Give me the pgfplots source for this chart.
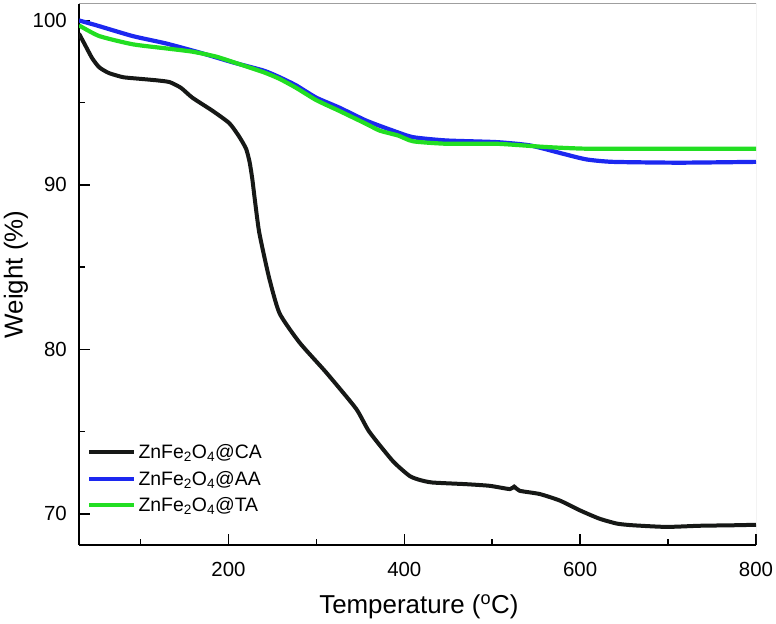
\documentclass[border=0pt]{standalone}
\usepackage{pgfplots}
\pgfplotsset{compat=1.18}
\usepackage{fontspec}
\setmainfont{Liberation Sans}

\definecolor{tgaBlack}{RGB}{22,24,22}
\definecolor{tgaBlue}{RGB}{28,40,240}
\definecolor{tgaGreen}{RGB}{34,222,34}

% TGA curves: temperature (C) vs remaining weight (%)
\pgfplotstableread{
T    W
30   99.2
36   98.6
45   97.7
53   97.15
64   96.8
80   96.55
95   96.47
118  96.36
133  96.25
146  95.9
159  95.3
182  94.5
201  93.75
212  92.95
220  92.2
224  91.4
227  90.4
230  89.1
235  87.1
246  84.4
258  82.2
281  80.4
311  78.6
345  76.4
360  75.0
387  73.2
406  72.3
418  72.05
432  71.9
470  71.8
497  71.7
520  71.5
525  71.65
531  71.4
554  71.2
577  70.8
600  70.2
622  69.7
642  69.4
660  69.3
698  69.2
736  69.27
774  69.3
800  69.33
}\dataCA

\pgfplotstableread{
T    W
30   100.0
50   99.7
91   99.05
129  98.6
167  98.05
205  97.45
240  96.95
258  96.55
277  96.05
300  95.3
326  94.7
357  93.9
387  93.3
410  92.9
448  92.7
505  92.6
543  92.4
580  91.9
607  91.55
637  91.4
713  91.35
800  91.4
}\dataAA

\pgfplotstableread{
T    W
30   99.7
53   99.05
91   98.55
129  98.3
159  98.1
186  97.8
212  97.35
240  96.85
258  96.45
277  95.9
300  95.15
326  94.5
357  93.7
372  93.3
393  93.0
410  92.65
448  92.5
505  92.5
562  92.3
607  92.2
676  92.2
800  92.2
}\dataTA

\begin{document}
\begin{tikzpicture}
\begin{axis}[
  scale only axis,
  width=677bp, height=541bp,
  xmin=30, xmax=800, ymin=68.1, ymax=101,
  axis x line*=bottom, axis y line*=left,
  axis line style={-, line width=1.6bp, black},
  xtick={200,400,600,800}, ytick={70,80,90,100},
  minor xtick={100,300,500,700}, minor ytick={75,85,95},
  tick align=inside,
  major tick length=11bp, minor tick length=6bp,
  every tick/.style={line width=1.6bp, black},
  /pgf/number format/assume math mode=true,
  ticklabel style={font=\fontsize{20.5}{24}\selectfont},
  xticklabel style={anchor=north, inner sep=0pt, yshift=-17bp},
  yticklabel style={anchor=east, inner sep=0pt, xshift=-12bp},
  xlabel={Temperature (\textsuperscript{o}C)},
  ylabel={Weight (\%)},
  label style={font=\fontsize{26}{30}\selectfont},
  xlabel style={at={(axis description cs:0.502,-0.115)}, anchor=center},
  ylabel style={at={(axis description cs:-0.093,0.5)}, anchor=center},
  legend style={
    at={(axis description cs:0.012,0.19)}, anchor=north west,
    draw=none, fill=none, inner sep=0pt, row sep=7bp,
    font=\fontsize{19.5}{23}\selectfont,
    nodes={inner sep=2bp},
  },
  legend cell align=left,
  legend image code/.code={\draw[#1] (0bp,0bp) -- (45bp,0bp);},
  every axis plot/.append style={smooth, tension=0.35},
]
\addplot[tgaBlack, line width=4bp] table[x=T, y=W] {\dataCA};
\addlegendentry{ZnFe\textsubscript{2}O\textsubscript{4}@CA}
\addplot[tgaBlue, line width=4.2bp] table[x=T, y=W] {\dataAA};
\addlegendentry{ZnFe\textsubscript{2}O\textsubscript{4}@AA}
\addplot[tgaGreen, line width=4.2bp] table[x=T, y=W] {\dataTA};
\addlegendentry{ZnFe\textsubscript{2}O\textsubscript{4}@TA}
% thin grey frame on the top and right sides
\draw[gray!75, line width=1bp] (rel axis cs:0,1) -- (rel axis cs:1,1) -- (rel axis cs:1,0);
\end{axis}
\path ([xshift=-79bp,yshift=4bp]current axis.north west)
      ([xshift=20bp,yshift=-78bp]current axis.south east);
\end{tikzpicture}
\end{document}
